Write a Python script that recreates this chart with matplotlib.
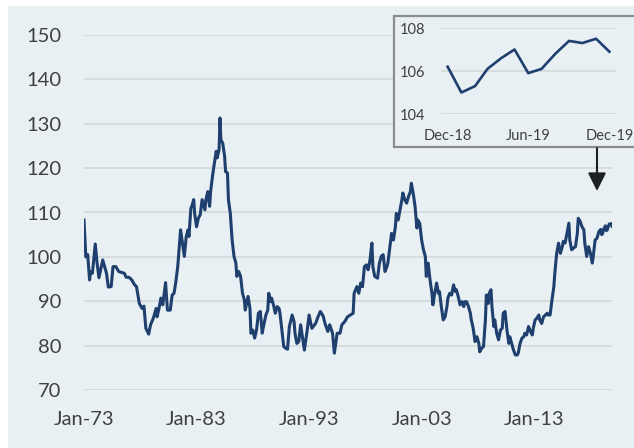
import matplotlib
matplotlib.use("Agg")
import matplotlib.pyplot as plt
from matplotlib.patches import Rectangle, FancyArrowPatch, ArrowStyle
import numpy as np
import pandas as pd

# ---------------- data ----------------
# observation month, counted in months since Jan-1973
obs_month = [
    0, 2, 4, 6, 7, 9, 12, 14, 16, 20, 24, 26, 29, 31, 34, 37, 40, 43, 45, 48,
    51, 54, 56, 59, 62, 64, 66, 69, 71, 74, 77, 78, 80, 82, 84, 87, 89, 92, 94, 96,
    98, 100, 103, 105, 107, 109, 111, 112, 114, 115, 117, 118, 120, 122, 124, 126, 129, 130, 132, 134,
    135, 137, 139, 141, 142, 144, 145, 146, 148, 150, 151, 153, 154, 156, 158, 160, 162, 163, 165, 167,
    169, 171, 172, 175, 177, 178, 180, 182, 184, 186, 188, 190, 192, 194, 196, 197, 199, 200, 202, 204,
    206, 208, 209, 211, 213, 215, 217, 219, 222, 224, 225, 227, 229, 231, 235, 238, 240, 243, 247, 249,
    252, 255, 257, 260, 262, 265, 267, 270, 273, 275, 278, 281, 284, 287, 288, 291, 293, 295, 297, 299,
    301, 303, 305, 307, 308, 310, 313, 315, 317, 319, 321, 323, 324, 326, 328, 330, 332, 333, 335, 337,
    339, 340, 342, 344, 346, 348, 349, 351, 353, 355, 356, 358, 360, 362, 364, 365, 367, 369, 371, 372,
    374, 376, 378, 379, 381, 383, 385, 387, 388, 390, 392, 394, 396, 397, 399, 401, 403, 405, 406, 408,
    410, 412, 413, 415, 417, 419, 421, 422, 424, 426, 428, 429, 431, 432, 434, 435, 437, 438, 440, 442,
    444, 446, 447, 449, 451, 453, 454, 456, 458, 460, 462, 463, 465, 467, 469, 470, 472, 474, 476, 478,
    479, 481, 483, 485, 486, 488, 490, 492, 494, 495, 497, 499, 501, 502, 504, 506, 508, 510, 511, 513,
    515, 517, 518, 520, 522, 524, 526, 527, 529, 531, 533, 534, 536, 538, 540, 542, 543, 545, 547, 549,
    551, 552, 553, 554, 555, 556, 557, 558, 559, 560, 561, 562, 563,
]
index_value = [
    108.3, 100.0, 100.5, 94.8, 96.7, 96.3, 102.9, 98.6, 95.3, 99.3, 96.3, 93.2, 93.3, 97.8, 97.8, 96.7, 96.5, 96.3, 95.4, 95.4,
    94.8, 93.7, 93.3, 89.5, 88.4, 88.9, 83.9, 82.6, 84.7, 86.2, 88.4, 86.5, 88.4, 90.7, 89.2, 94.2, 88.0, 88.0, 91.4, 91.8,
    94.4, 97.8, 106.1, 103.1, 100.1, 104.6, 106.1, 104.6, 111.0, 111.4, 112.9, 109.8, 106.8, 108.7, 109.5, 112.9, 110.6, 112.9, 114.7, 111.4,
    114.7, 118.1, 121.1, 123.8, 122.3, 124.1, 131.3, 126.4, 125.6, 122.6, 119.2, 118.9, 112.9, 109.8, 103.8, 100.1, 98.6, 95.6, 96.7, 95.6,
    91.8, 90.3, 88.0, 91.1, 88.4, 82.8, 83.5, 81.7, 83.5, 87.3, 87.7, 82.8, 85.0, 86.9, 88.0, 91.8, 89.9, 90.7, 89.2, 87.3,
    88.8, 88.4, 87.3, 83.5, 79.8, 79.4, 79.2, 84.3, 86.9, 85.4, 82.8, 80.5, 80.9, 84.7, 79.0, 83.5, 86.9, 83.9, 85.0, 86.2,
    87.7, 86.7, 85.0, 83.2, 84.7, 82.8, 78.3, 82.8, 82.8, 84.7, 85.4, 86.5, 86.9, 87.3, 91.8, 93.3, 91.8, 94.1, 93.3, 97.8,
    98.2, 97.1, 99.3, 103.1, 97.8, 95.6, 95.2, 98.6, 100.1, 100.5, 96.7, 97.8, 98.6, 102.0, 105.3, 103.8, 106.8, 109.8, 108.3, 110.6,
    112.9, 114.4, 112.9, 112.1, 113.6, 114.7, 116.6, 114.4, 111.4, 106.5, 108.3, 107.5, 103.8, 101.6, 100.1, 95.6, 98.6, 94.8, 91.8, 89.2,
    91.8, 94.1, 91.8, 92.2, 88.8, 85.8, 86.5, 88.8, 90.7, 91.8, 91.4, 93.7, 92.2, 92.6, 91.1, 89.2, 89.9, 88.8, 89.9, 89.9,
    88.8, 87.3, 85.8, 83.9, 80.9, 82.0, 80.5, 78.6, 79.4, 79.8, 85.8, 91.4, 89.5, 91.8, 92.6, 88.8, 84.3, 85.8, 82.8, 81.3,
    83.5, 83.9, 87.3, 87.7, 83.5, 80.5, 82.0, 80.5, 79.0, 77.9, 77.9, 78.3, 80.5, 81.7, 82.0, 82.8, 82.4, 84.3, 83.2, 82.4,
    83.9, 85.8, 86.2, 86.9, 85.8, 85.0, 86.5, 86.9, 87.3, 86.9, 86.9, 90.3, 93.3, 96.3, 100.8, 103.1, 100.8, 102.3, 103.5, 103.1,
    105.3, 107.6, 103.8, 101.6, 102.0, 102.3, 105.3, 108.7, 108.0, 106.8, 106.1, 103.1, 100.1, 102.3, 100.8, 98.6, 100.1, 103.8, 104.2, 105.7,
    106.2, 105.0, 105.3, 106.1, 106.6, 107.0, 105.9, 106.1, 106.8, 107.4, 107.3, 107.5, 106.9,
]
main_ticks = ["1973-01", "1983-01", "1993-01", "2003-01", "2013-01"]
main_tick_labels = ["Jan-73", "Jan-83", "Jan-93", "Jan-03", "Jan-13"]
main_yticks = [70, 80, 90, 100, 110, 120, 130, 140, 150]

inset_start = "2018-12"
inset_ticks = ["2018-12", "2019-06", "2019-12"]
inset_tick_labels = ["Dec-18", "Jun-19", "Dec-19"]
inset_yticks = [104, 106, 108]

# ---------------- styling ----------------
BG = "#E8F0F3"
LINE = "#1F3F6E"
GRID = "#D5D9DB"
TXT = "#404040"
plt.rcParams["font.family"] = ["Lato", "DejaVu Sans"]

m = np.array(obs_month)
dates = pd.to_datetime(pd.DataFrame({"year": 1973 + m // 12, "month": m % 12 + 1, "day": 1}))
series = pd.Series(index_value, index=dates)

W, H = 634, 448
fig = plt.figure(figsize=(W / 100, H / 100), dpi=100)
fig.patch.set_facecolor("white")
fig.patches.append(Rectangle((8 / W, 0), 1 - 8 / W, 1 - 6 / H, transform=fig.transFigure,
                             facecolor=BG, edgecolor="none", zorder=-1))

# main axes
ax = fig.add_axes([84 / W, 1 - 390 / H, 528 / W, 355 / H])
ax.set_facecolor("none")
ax.plot(series.index, series.values, color=LINE, lw=2.2, solid_joinstyle="round", zorder=3)
ax.set_xlim(series.index[0], series.index[-1])
ax.set_ylim(70, 150)
ax.set_yticks(main_yticks)
ax.set_xticks(pd.to_datetime(main_ticks))
ax.set_xticklabels(main_tick_labels)
ax.grid(axis="y", color=GRID, lw=1.3)
ax.set_axisbelow(True)
for s in ax.spines.values():
    s.set_visible(False)
ax.tick_params(axis="both", length=0, labelsize=14.5, colors=TXT)
ax.tick_params(axis="y", pad=16.5)
ax.tick_params(axis="x", pad=15)

# inset box
fig.patches.append(Rectangle((394 / W, 1 - 147 / H), (645 - 394) / W, 131 / H, transform=fig.transFigure,
                             facecolor=BG, edgecolor="#8C8C8C", lw=1.6, zorder=1))

ins = series[series.index >= pd.Timestamp(inset_start)]
axi = fig.add_axes([441 / W, 1 - 114 / H, 175 / W, 86 / H])
axi.set_zorder(2)
axi.set_facecolor("none")
axi.plot(ins.index, ins.values, color=LINE, lw=1.9, solid_joinstyle="round")
axi.set_xlim(ins.index[0] - pd.Timedelta(days=15), ins.index[-1] + pd.Timedelta(days=15))
axi.set_ylim(104, 108)
axi.set_yticks(inset_yticks)
axi.set_xticks(pd.to_datetime(inset_ticks))
axi.set_xticklabels(inset_tick_labels)
axi.grid(axis="y", color=GRID, lw=1.3)
axi.set_axisbelow(True)
for s in axi.spines.values():
    s.set_visible(False)
axi.tick_params(axis="both", length=0, labelsize=10.5, colors=TXT)
axi.tick_params(axis="y", pad=11.5)
axi.tick_params(axis="x", pad=10.5)

# arrow from inset to series end
arr = FancyArrowPatch((597 / W, 1 - 148 / H), (597 / W, 1 - 191 / H), transform=fig.transFigure,
                      arrowstyle=ArrowStyle("-|>", head_length=1.1, head_width=0.55),
                      mutation_scale=10, lw=1.5, color="#1C1F24", shrinkA=0, shrinkB=0, zorder=3)
fig.patches.append(arr)

fig.savefig("out.png", dpi=100, facecolor=fig.get_facecolor())
